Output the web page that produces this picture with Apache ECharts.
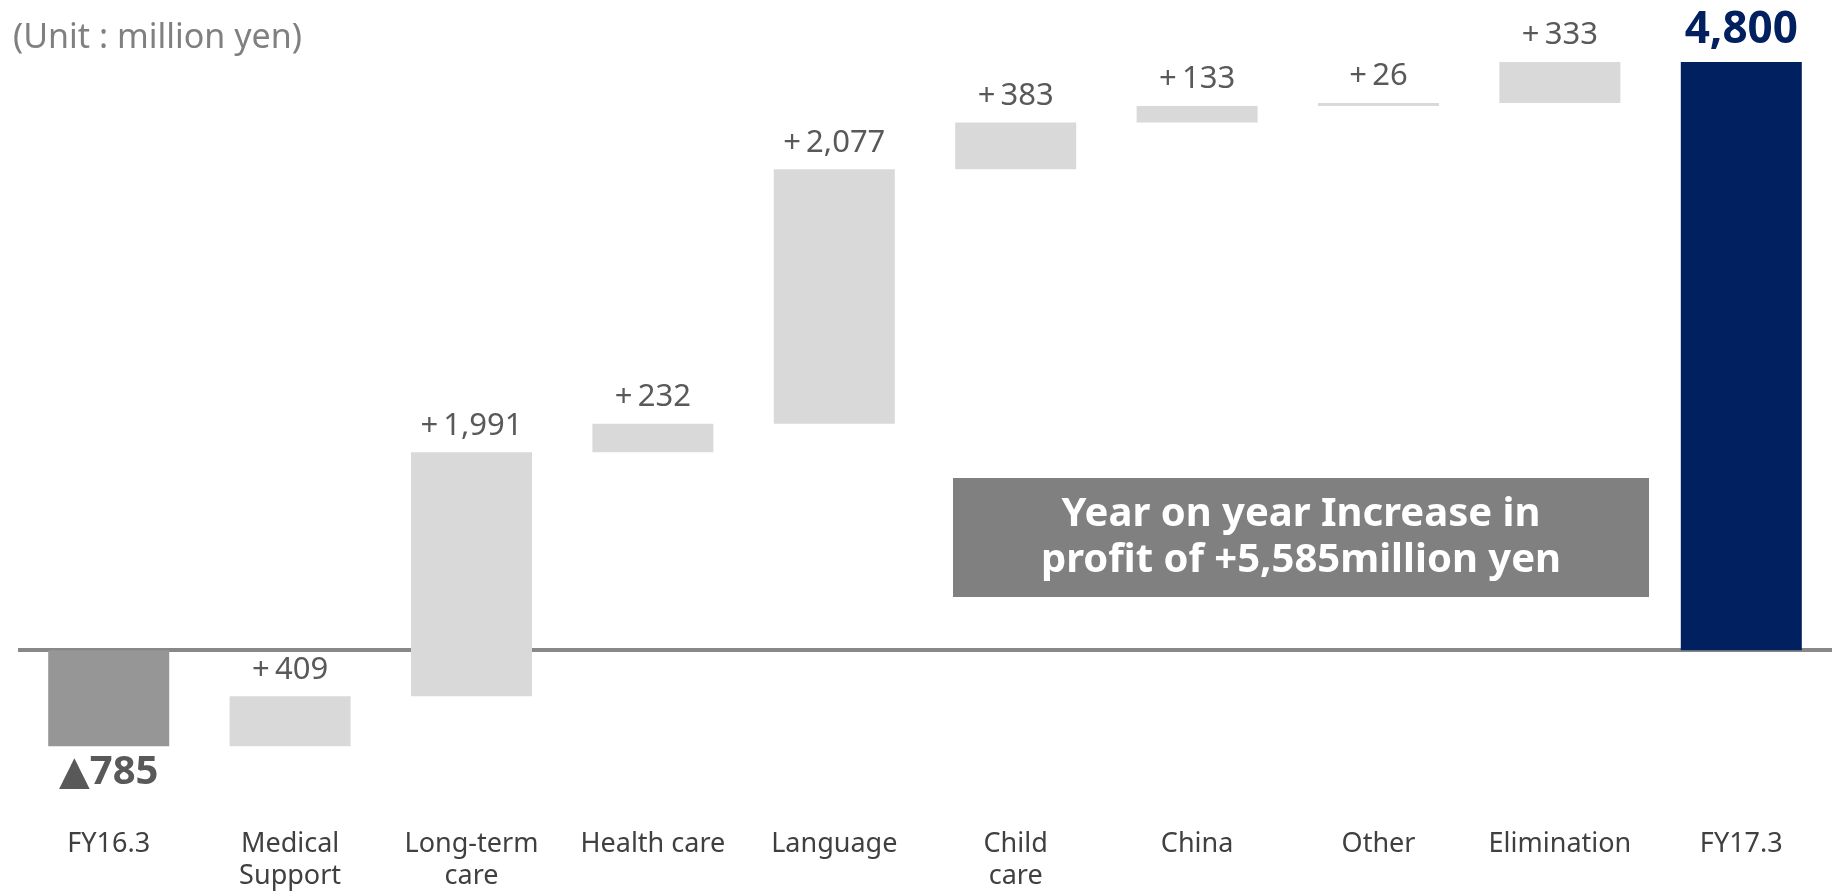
<!DOCTYPE html>
<html>
<head>
<meta charset="utf-8">
<script src="https://cdn.jsdelivr.net/npm/echarts@6/dist/echarts.min.js"></script>
<style>
  html, body { margin: 0; padding: 0; background: #fff; }
  #chart { width: 1836px; height: 893px; }
</style>
</head>
<body>
<div id="chart"></div>
<script>
  // data
  const categories = ['FY16.3', 'Medical\nSupport', 'Long-term\ncare', 'Health care', 'Language',
    'Child\ncare', 'China', 'Other', 'Elimination', 'FY17.3'];
  const startValue = -785;
  const changes = [409, 1991, 232, 2077, 383, 133, 26, 333];
  const endValue = 4800;
  const unitText = '(Unit : million yen)';
  const noteText = 'Year on year Increase in\nprofit of +5,585million yen';

  const FONT = '"Noto Sans", "DejaVu Sans", sans-serif';
  const fmt = v => Math.abs(v).toLocaleString('en-US');

  // waterfall: invisible base + visible step, stacked with 'all' so steps can cross zero
  const baseData = [0];
  const stepData = [{
    value: startValue,
    itemStyle: { color: '#969696' },
    label: {
      position: 'bottom', distance: 6, formatter: () => '▲' + fmt(startValue),
      fontSize: 40, fontWeight: 'bold', color: '#595959'
    }
  }];
  let running = startValue;
  changes.forEach(c => {
    baseData.push(running);
    stepData.push({ value: c });
    running += c;
  });
  baseData.push(0);
  stepData.push({
    value: endValue,
    itemStyle: { color: '#002060' },
    label: {
      distance: 10, formatter: () => fmt(endValue),
      fontSize: 44, fontWeight: 'bold', color: '#002060'
    }
  });

  const chart = echarts.init(document.getElementById('chart'));

  chart.setOption({
    animation: false,
    title: {
      text: unitText,
      left: 8,
      top: 16,
      textStyle: { fontFamily: FONT, fontSize: 34, fontWeight: 'normal', color: '#808080' }
    },
    grid: { left: 18, right: 4, top: 62, bottom: 75, outerBoundsMode: 'none' },
    xAxis: {
      type: 'category',
      data: categories,
      axisLine: { show: false, onZero: false },
      axisTick: { show: false },
      axisLabel: {
        interval: 0, margin: 10, fontFamily: FONT, fontSize: 27, lineHeight: 32, color: '#404040'
      }
    },
    yAxis: {
      type: 'value',
      min: -1370,
      max: 4800,
      show: false,
      splitLine: { show: false }
    },
    series: [
      {
        name: 'base',
        type: 'bar',
        stack: 'wf',
        stackStrategy: 'all',
        barWidth: 121,
        itemStyle: { color: 'transparent' },
        emphasis: { disabled: true },
        data: baseData,
        markLine: {
          z: 1,
          silent: true,
          symbol: 'none',
          label: { show: false },
          lineStyle: { color: '#888888', width: 4, type: 'solid' },
          data: [{ yAxis: 0 }]
        }
      },
      {
        name: 'change',
        type: 'bar',
        stack: 'wf',
        stackStrategy: 'all',
        barWidth: 121,
        itemStyle: { color: '#d9d9d9' },
        label: {
          show: true,
          position: 'top',
          distance: 11,
          fontFamily: FONT,
          fontSize: 31,
          color: '#595959',
          formatter: p => '+\u2009' + fmt(p.value)
        },
        data: stepData
      }
    ],
    graphic: [
      {
        type: 'rect',
        left: 953,
        top: 478,
        shape: { width: 696, height: 119 },
        style: { fill: '#808080' }
      },
      {
        type: 'text',
        x: 1301,
        y: 538,
        style: {
          text: noteText,
          fill: '#ffffff',
          font: 'bold 40px ' + FONT,
          lineHeight: 46,
          align: 'center',
          verticalAlign: 'middle'
        }
      }
    ]
  });
</script>
</body>
</html>
